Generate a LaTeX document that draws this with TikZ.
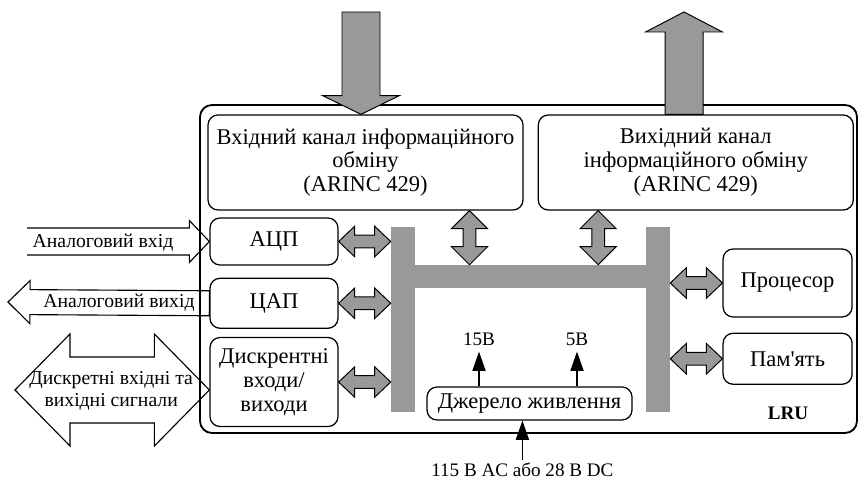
\documentclass[tikz,border=0pt]{standalone}
\usepackage{fontspec}
\setmainfont{Liberation Serif}
\usetikzlibrary{arrows.meta,positioning,calc}
\definecolor{busgray}{gray}{0.6}

\tikzset{
  box/.style={draw, rounded corners=0.25cm, line width=0.9pt, align=center,
              inner sep=1pt, font=\fontsize{16}{17}\selectfont},
  bar/.style={fill=busgray, inner sep=0pt},
  sig/.style={inner sep=0pt, align=center, font=\fontsize{14}{15.6}\selectfont},
  volt/.style={inner sep=0pt, font=\fontsize{13.6}{15}\selectfont},
  pwr/.style={line width=0.8pt, -{Triangle[width=0.33cm, length=0.48cm]}},
  shaft/.store in=\arrshaft, headw/.store in=\arrheadw, headl/.store in=\arrheadl,
  shaft=0.16cm, headw=0.38cm, headl=0.4cm,
  grayarrow/.style={draw, fill=busgray, line width=0.7pt},
  hollow/.style={draw, fill=white, line width=0.8pt},
  dblarrow/.style={to path={(\tikztostart)
      -- ($(\tikztostart)!\arrheadl!(\tikztotarget)!\arrheadw!-90:(\tikztostart)$)
      -- ($(\tikztostart)!\arrheadl!(\tikztotarget)!\arrshaft!-90:(\tikztostart)$)
      -- ($(\tikztotarget)!\arrheadl!(\tikztostart)!\arrshaft!90:(\tikztotarget)$)
      -- ($(\tikztotarget)!\arrheadl!(\tikztostart)!\arrheadw!90:(\tikztotarget)$)
      -- (\tikztotarget)
      -- ($(\tikztotarget)!\arrheadl!(\tikztostart)!\arrheadw!-90:(\tikztotarget)$)
      -- ($(\tikztotarget)!\arrheadl!(\tikztostart)!\arrshaft!-90:(\tikztotarget)$)
      -- ($(\tikztostart)!\arrheadl!(\tikztotarget)!\arrshaft!90:(\tikztostart)$)
      -- ($(\tikztostart)!\arrheadl!(\tikztotarget)!\arrheadw!90:(\tikztostart)$)
      -- cycle}},
  tailarrow/.style={to path={($(\tikztostart)!\arrshaft!90:(\tikztotarget)$)
      -- ($(\tikztotarget)!\arrheadl!(\tikztostart)!\arrshaft!90:(\tikztotarget)$)
      -- ($(\tikztotarget)!\arrheadl!(\tikztostart)!\arrheadw!90:(\tikztotarget)$)
      -- (\tikztotarget)
      -- ($(\tikztotarget)!\arrheadl!(\tikztostart)!\arrheadw!-90:(\tikztotarget)$)
      -- ($(\tikztotarget)!\arrheadl!(\tikztostart)!\arrshaft!-90:(\tikztotarget)$)
      -- ($(\tikztostart)!\arrshaft!-90:(\tikztotarget)$)}}
}

\begin{document}
\begin{tikzpicture}
  \useasboundingbox (0,0) rectangle (21.475,11.975);

  % blocks
  \node[box, minimum width=7.875cm, minimum height=2.375cm] (inch) at (9.1375,7.9125)
    {Вхідний канал інформаційного\\обміну\\(ARINC 429)};
  \node[box, minimum width=7.875cm, minimum height=2.375cm, right=0.35cm of inch] (outch)
    {Вихідний канал\\інформаційного обміну\\(ARINC 429)};
  \node[box, minimum width=3.2cm, minimum height=1.175cm] (adc) at (6.85,5.9375) {АЦП};
  \node[box, minimum width=3.2cm, minimum height=1.25cm, below=0.3cm of adc] (dac) {ЦАП};
  \node[box, minimum width=3.2cm, minimum height=2.225cm, below=0.2cm of dac] (dio)
    {Дискрентні\\входи/\\виходи};
  \node[box, minimum width=3.225cm, minimum height=1.7cm] (cpu) at (19.69,4.9) {Процесор};
  \node[box, minimum width=3.225cm, minimum height=1.275cm, below=0.375cm of cpu] (mem)
    {Пам\textquotesingle ять};
  \node[box, minimum width=5.125cm, minimum height=0.825cm] (psu) at (13.2375,1.8875)
    {Джерело живлення};

  % bus
  \node[bar, minimum width=0.6cm, minimum height=4.625cm] (busl) at (10.075,3.9875) {};
  \node[bar, minimum width=0.6cm, minimum height=4.625cm] (busr) at (16.45,3.9875) {};
  \node[bar, minimum width=6.975cm, minimum height=0.575cm] (bush) at (13.2625,5.0625) {};

  % external signals
  \coordinate (ain) at (0.675,5.9375);
  \draw[hollow, tailarrow, shaft=0.3375cm, headw=0.525cm, headl=0.5cm] (ain) to (adc.west);
  \coordinate (aout) at (0.2,4.425);
  \draw[hollow, tailarrow, shaft=0.3125cm, headw=0.54cm, headl=0.55cm] (dac.west) to (aout) -- cycle;
  \coordinate (dsig) at (0.375,2.225);
  \draw[hollow, dblarrow, shaft=0.825cm, headw=1.4cm, headl=1.375cm] (dsig) to (dsig -| dio.west);
  \node[sig] (ainl) at (2.575,5.9) {Аналоговий вхід};
  \node[sig] (aoutl) at (2.975,4.4) {Аналоговий вихід};
  \node[sig] (diol) at (2.78,2.2) {Дискретні вхідні та\\вихідні сигнали};

  % LRU frame
  \node[draw, rounded corners=0.3cm, line width=1.3pt, minimum width=16.425cm,
        minimum height=8.2cm] (lru) at (13.2125,5.25) {};
  \node[volt] (lrul) at (19.7,1.65) {\bfseries LRU};

  % ARINC 429 in/out
  \coordinate (txin) at (9.025,11.675);
  \draw[grayarrow, tailarrow, shaft=0.475cm, headw=0.9625cm, headl=0.47cm] (txin) to (txin |- inch.north) -- cycle;
  \coordinate (txout) at (17.1,11.675);
  \draw[grayarrow, tailarrow, shaft=0.475cm, headw=0.9625cm, headl=0.5cm] (txout |- outch.north) to (txout) -- cycle;

  % bus links
  \draw[grayarrow, dblarrow] (adc.east) to (adc.east -| busl.west);
  \draw[grayarrow, dblarrow] (dac.east) to (dac.east -| busl.west);
  \draw[grayarrow, dblarrow] (dio.east) to (dio.east -| busl.west);
  \draw[grayarrow, dblarrow] (busr.east |- cpu.west) to (cpu.west);
  \draw[grayarrow, dblarrow] (busr.east |- mem.west) to (mem.west);
  \coordinate (upin) at ([xshift=2.6cm]inch.south);
  \coordinate (upout) at ([xshift=-2.44cm]outch.south);
  \draw[grayarrow, dblarrow, headw=0.45cm, headl=0.45cm] (upin) to (upin |- bush.north);
  \draw[grayarrow, dblarrow, headw=0.45cm, headl=0.45cm] (upout) to (upout |- bush.north);

  % power
  \node[volt] (v15) at (11.975,3.5) {15В};
  \node[volt] (v5) at (14.425,3.5) {5В};
  \node[volt] (vin) at (13.06,0.225) {115 В AC або 28 В DC};
  \draw[pwr] (psu.north -| v15.south) -- ([yshift=-0.15cm]v15.south);
  \draw[pwr] (psu.north -| v5.south) -- ([yshift=-0.15cm]v5.south);
  \draw[pwr] ([yshift=0.08cm]vin.north) -- (vin.north |- psu.south);
\end{tikzpicture}
\end{document}
